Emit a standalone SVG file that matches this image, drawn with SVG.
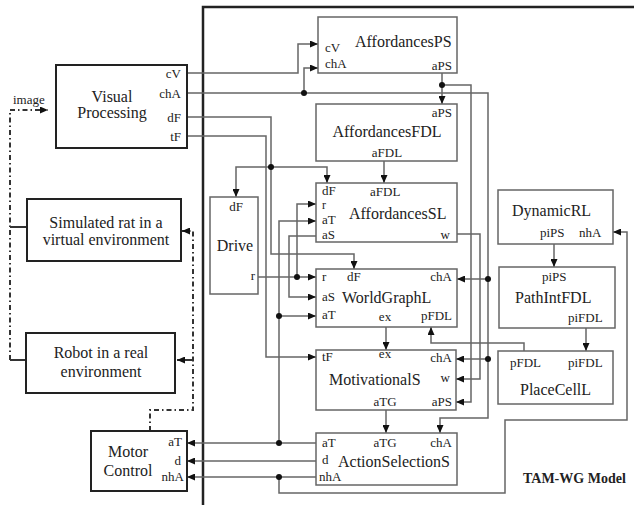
<svg xmlns="http://www.w3.org/2000/svg" width="634" height="505" viewBox="0 0 634 505">
<defs>
<marker id="ah" viewBox="0 0 8 7" refX="8" refY="3.5" markerWidth="8" markerHeight="7" markerUnits="userSpaceOnUse" orient="auto"><path d="M0,0 L8,3.5 L0,7 z" fill="#111"/></marker>
<style>
.bx{fill:#fff;stroke:#666;stroke-width:1.5}
.ob{fill:#fff;stroke:#222;stroke-width:2}
.c{fill:none;stroke:#666;stroke-width:1.5}
.ca{fill:none;stroke:#666;stroke-width:1.5;marker-end:url(#ah)}
.d{fill:none;stroke:#333;stroke-width:2;stroke-dasharray:5 3 1.5 3}
.da{fill:none;stroke:#333;stroke-width:2;stroke-dasharray:5 3 1.5 3;marker-end:url(#ah)}
.s{fill:none;stroke:#333;stroke-width:2}
.sa{fill:none;stroke:#333;stroke-width:2;marker-end:url(#ah)}
.dot{fill:#111}
text{font-family:"Liberation Serif","Times New Roman",serif;fill:#222}
.t{font-size:16px}
.p{font-size:13px}
.m{text-anchor:middle}
.e{text-anchor:end}
.b{font-size:14px;font-weight:bold}
</style>
</defs>
<rect width="634" height="505" fill="#fff"/>
<path d="M203,505 V7 H634" fill="none" stroke="#222" stroke-width="2.5"/>

<g id="connectors">
<path class="ca" d="M187,73 H298 V44 H318"/>
<path class="ca" d="M187,93 H488 V418 H440 V433"/>
<path class="ca" d="M304,93 V68 H318"/>
<path class="ca" d="M488,279 H457"/>
<path class="ca" d="M488,359 H456"/>
<path class="ca" d="M187,117 H271 V254 H354 V269"/>
<path class="ca" d="M271,167 H236 V197"/>
<path class="ca" d="M271,167 H327 V183"/>
<path class="ca" d="M187,136 H266 V357 H316"/>
<path class="ca" d="M442,73 V104"/>
<path class="ca" d="M442,85 H471 V402 H456"/>
<path class="ca" d="M384,161 V183"/>
<path class="ca" d="M457,234 H480 V379 H456"/>
<path class="ca" d="M258,277 H316"/>
<path class="ca" d="M297,277 V204 H316"/>
<path class="ca" d="M316,443 H187"/>
<path class="ca" d="M279,443 V221 H316"/>
<path class="ca" d="M279,316 H316"/>
<path class="ca" d="M316,236 H289 V297 H316"/>
<path class="ca" d="M386,327 V350"/>
<path class="ca" d="M524,351 V343 H431 V327"/>
<path class="ca" d="M386,410 V433"/>
<path class="ca" d="M316,461 H187"/>
<path class="ca" d="M316,477 H187"/>
<path class="ca" d="M279,477 V493 H505 V420 H627 V232 H613"/>
<path class="ca" d="M554,244 V267"/>
<path class="ca" d="M586,328 V351"/>
<circle class="dot" cx="304" cy="93" r="3"/>
<circle class="dot" cx="488" cy="279" r="3"/>
<circle class="dot" cx="488" cy="359" r="3"/>
<circle class="dot" cx="271" cy="167" r="3"/>
<circle class="dot" cx="442" cy="85" r="3"/>
<circle class="dot" cx="297" cy="277" r="3"/>
<circle class="dot" cx="279" cy="443" r="3"/>
<circle class="dot" cx="279" cy="316" r="3"/>
<circle class="dot" cx="279" cy="477" r="3"/>
<path class="da" d="M10,360 V110 H48"/>
<path class="s" d="M10,227 H27 M10,360 H26"/>
<path class="da" d="M150,431 V410 H193 V231 H182"/>
<path class="sa" d="M193,360 H177"/>
</g>

<g id="visual-processing">
<rect class="ob" x="56" y="65" width="131" height="83"/>
<text class="t m" x="112" y="102">Visual</text>
<text class="t m" x="112" y="118">Processing</text>
<text class="p e" x="181" y="78">cV</text>
<text class="p e" x="181" y="98">chA</text>
<text class="p e" x="181" y="122">dF</text>
<text class="p e" x="181" y="141">tF</text>
</g>
<text class="p" x="13" y="104">image</text>

<g id="simulated-rat">
<rect class="ob" x="27" y="199" width="154" height="62"/>
<text class="t m" x="106" y="228">Simulated rat in a</text>
<text class="t m" x="106" y="245">virtual environment</text>
</g>

<g id="robot">
<rect class="ob" x="26" y="333" width="149" height="60"/>
<text class="t m" x="101" y="358">Robot in a real</text>
<text class="t m" x="101" y="377">environment</text>
</g>

<g id="motor-control">
<rect class="ob" x="91" y="431" width="96" height="60"/>
<text class="t m" x="128" y="457">Motor</text>
<text class="t m" x="128" y="476">Control</text>
<text class="p e" x="182" y="446">aT</text>
<text class="p e" x="181" y="465">d</text>
<text class="p e" x="184" y="481">nhA</text>
</g>

<g id="affordances-ps">
<rect class="bx" x="318" y="17" width="139" height="56"/>
<text class="t" x="355" y="47">AffordancesPS</text>
<text class="p" x="325" y="52">cV</text>
<text class="p" x="325" y="68">chA</text>
<text class="p e" x="452" y="70">aPS</text>
</g>

<g id="affordances-fdl">
<rect class="bx" x="316" y="104" width="141" height="57"/>
<text class="p e" x="452" y="117">aPS</text>
<text class="t m" x="387" y="137">AffordancesFDL</text>
<text class="p m" x="387" y="157">aFDL</text>
</g>

<g id="affordances-sl">
<rect class="bx" x="316" y="183" width="141" height="59"/>
<text class="p" x="322" y="195">dF</text>
<text class="p" x="370" y="196">aFDL</text>
<text class="p" x="322" y="209" style="font-size:12px">r</text>
<text class="p" x="322" y="224">aT</text>
<text class="p" x="322" y="239">aS</text>
<text class="t" x="349" y="219">AffordancesSL</text>
<text class="p e" x="450" y="239">w</text>
</g>

<g id="drive">
<rect class="bx" x="210" y="197" width="48" height="97"/>
<text class="p m" x="236" y="211">dF</text>
<text class="t m" x="235" y="251">Drive</text>
<text class="p e" x="255" y="280">r</text>
</g>

<g id="world-graph-l">
<rect class="bx" x="316" y="269" width="141" height="58"/>
<text class="p" x="322" y="281">r</text>
<text class="p" x="347" y="281">dF</text>
<text class="p e" x="452" y="281">chA</text>
<text class="p" x="322" y="301">aS</text>
<text class="t" x="342" y="303">WorldGraphL</text>
<text class="p" x="322" y="319">aT</text>
<text class="p m" x="385" y="321">ex</text>
<text class="p e" x="452" y="320">pFDL</text>
</g>

<g id="motivational-s">
<rect class="bx" x="316" y="350" width="140" height="60"/>
<text class="p" x="322" y="361">tF</text>
<text class="p m" x="385" y="358">ex</text>
<text class="p e" x="452" y="362">chA</text>
<text class="t" x="329" y="385">MotivationalS</text>
<text class="p e" x="450" y="382">w</text>
<text class="p m" x="385" y="406">aTG</text>
<text class="p e" x="452" y="406">aPS</text>
</g>

<g id="action-selection-s">
<rect class="bx" x="316" y="433" width="141" height="52"/>
<text class="p" x="322" y="447">aT</text>
<text class="p m" x="385" y="447">aTG</text>
<text class="p e" x="452" y="447">chA</text>
<text class="p" x="322" y="464">d</text>
<text class="t" x="338" y="467">ActionSelectionS</text>
<text class="p" x="319" y="481">nhA</text>
</g>

<g id="dynamic-rl">
<rect class="bx" x="498" y="190" width="115" height="54"/>
<text class="t" x="512" y="216">DynamicRL</text>
<text class="p" x="540" y="237">piPS</text>
<text class="p" x="579" y="237">nhA</text>
</g>

<g id="path-int-fdl">
<rect class="bx" x="499" y="267" width="116" height="61"/>
<text class="p" x="542" y="281">piPS</text>
<text class="t" x="515" y="303">PathIntFDL</text>
<text class="p" x="568" y="322">piFDL</text>
</g>

<g id="place-cell-l">
<rect class="bx" x="498" y="351" width="115" height="53"/>
<text class="p" x="510" y="367">pFDL</text>
<text class="p" x="568" y="367">piFDL</text>
<text class="t" x="520" y="395">PlaceCellL</text>
</g>

<text class="b" x="523" y="483">TAM-WG Model</text>
</svg>
